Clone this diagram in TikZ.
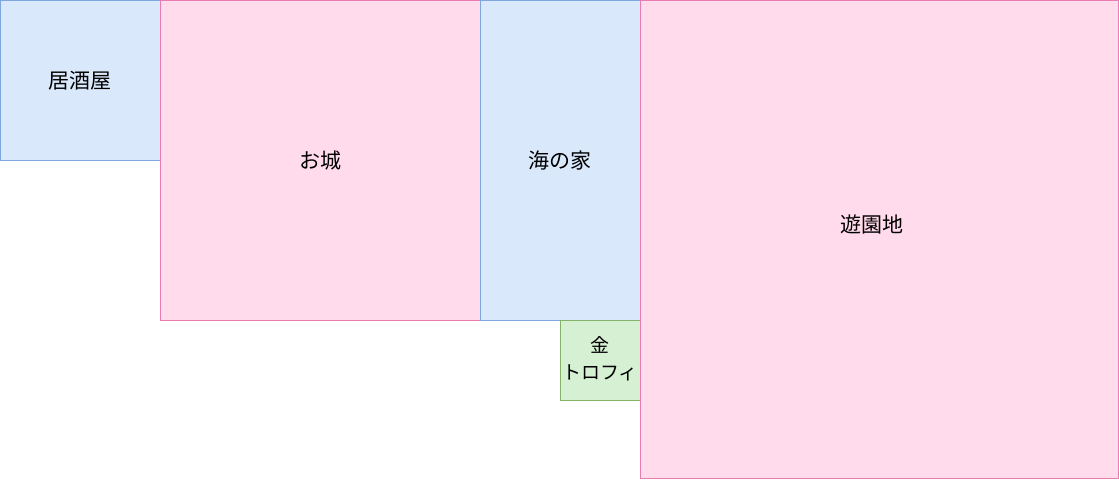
\documentclass[tikz,border=0pt]{standalone}
\usepackage{fontspec}
\newfontfamily\cjk{Noto Sans CJK JP}
\definecolor{bluefill}{HTML}{DAE8FC}
\definecolor{bluedraw}{HTML}{7EA6E0}
\definecolor{pinkfill}{HTML}{FFDBEB}
\definecolor{pinkdraw}{HTML}{E87DB0}
\definecolor{greenfill}{HTML}{D5F0D3}
\definecolor{greendraw}{HTML}{82B366}
\begin{document}
\begin{tikzpicture}[x=1pt,y=-1pt,
  area/.style={draw, line width=0.8pt, inner sep=0pt, font=\cjk\fontsize{21}{27}\selectfont, align=center},
  bluearea/.style={area, fill=bluefill, draw=bluedraw},
  pinkarea/.style={area, fill=pinkfill, draw=pinkdraw},
  greenarea/.style={area, fill=greenfill, draw=greendraw}]
\useasboundingbox (0,0) rectangle (1119,480);
\fill[white] (0,0) rectangle (1119,480);
\draw[bluearea] (0.5,0.5) rectangle (160,160) node[midway] (izakaya) {居酒屋};
\draw[pinkarea] (160,0.5) rectangle (480,320) node[midway] (oshiro) {お城};
\draw[bluearea] (480,0.5) rectangle (640,320) node[midway] (uminoie) {海の家};
\draw[greenarea] (560,320) rectangle (640,400) node[midway, yshift=1pt, font=\cjk\fontsize{19}{27}\selectfont] (trophy) {金\\トロフィ};
\draw[pinkarea] (640,0.5) rectangle (1118,478);
\node[area, draw=none] (yuenchi) at (872,224) {遊園地};
\end{tikzpicture}
\end{document}
